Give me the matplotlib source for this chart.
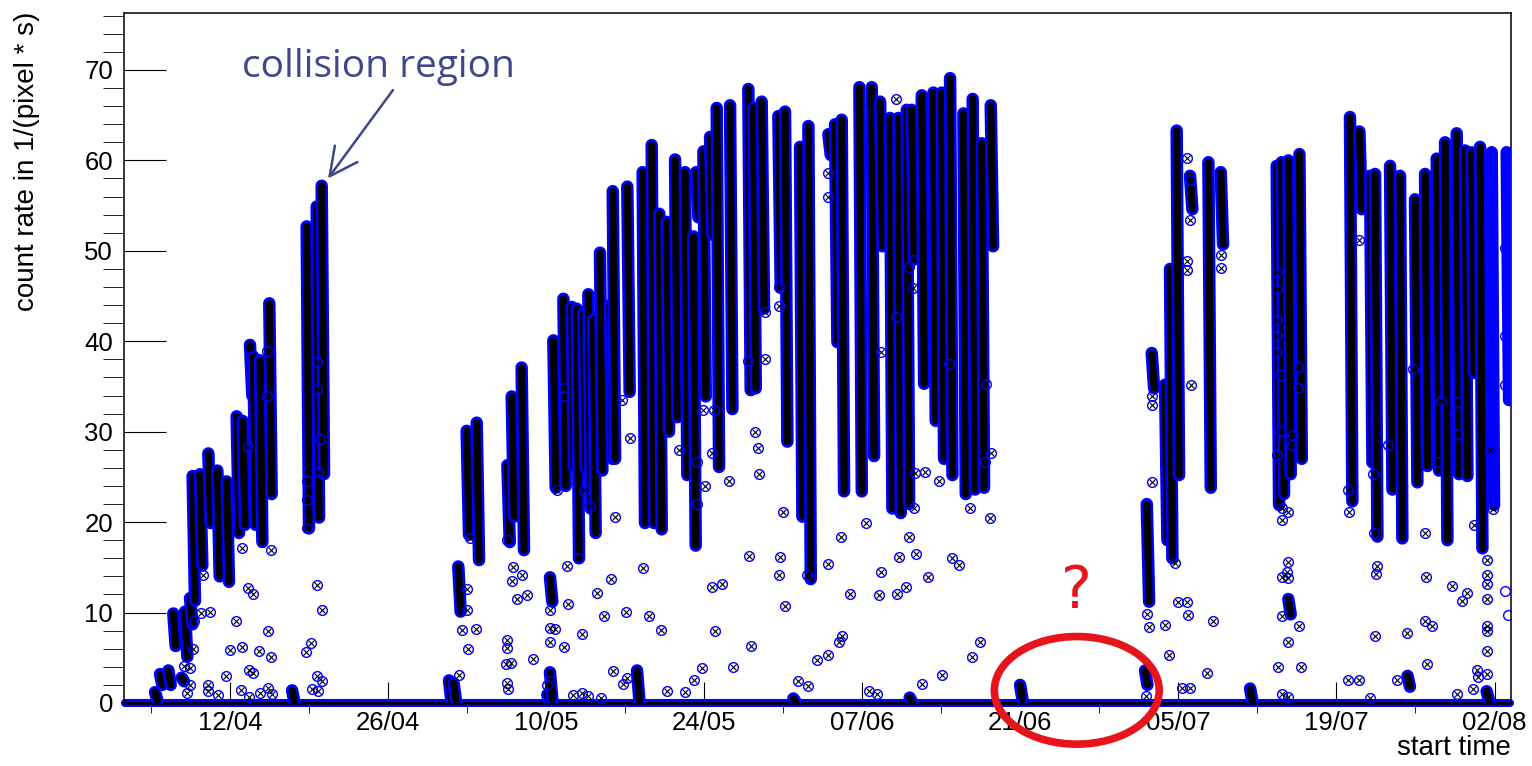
import numpy as np
import matplotlib.pyplot as plt
from matplotlib.patches import Ellipse

plt.rcParams['font.family'] = ['Liberation Sans', 'DejaVu Sans']

# time axis: days counted from 01/04 00:00
tick_days = [11, 25, 39, 53, 67, 81, 95, 109, 123]
tick_labels = ['12/04', '26/04', '10/05', '24/05', '07/06', '21/06', '05/07', '19/07', '02/08']

# fills: (start day, rate at start, rate at end)
fills_april = [(4.80, 3.2, 2.0), (5.54, 3.6, 2.0), (5.98, 9.9, 6.3), (7.01, 10.1, 5.1),
               (7.46, 11.6, 8.7), (7.69, 25.1, 11.3), (8.34, 25.3, 15.2), (9.08, 27.6, 19.9),
               (9.88, 25.7, 14.0), (10.70, 24.5, 13.4), (11.59, 31.7, 18.8), (12.12, 31.2, 19.7),
               (12.77, 39.6, 34.0), (13.07, 38.3, 19.7), (13.66, 37.9, 17.8), (14.48, 44.2, 23.1),
               (17.79, 52.7, 19.3), (18.68, 54.9, 20.5), (19.12, 57.2, 25.3), (31.22, 15.1, 10.1),
               (31.96, 30.1, 18.6), (32.85, 31.0, 15.8)]
fills_may = [(35.57, 26.3, 17.8), (35.95, 33.9, 20.6), (36.83, 37.1, 16.9), (39.34, 13.9, 11.2),
             (39.64, 40.1, 23.8), (40.53, 44.7, 24.0), (41.26, 43.8, 26.1), (41.71, 43.6, 16.0),
             (42.30, 43.1, 25.9), (42.74, 45.2, 21.5), (43.18, 42.4, 18.8), (43.77, 49.8, 25.7),
             (44.66, 44.0, 27.0), (44.90, 56.6, 27.0), (46.19, 57.1, 34.4), (47.55, 58.7, 19.9),
             (48.35, 61.7, 19.9), (49.03, 54.1, 19.2), (49.68, 53.2, 30.0), (50.42, 60.1, 31.6),
             (51.30, 58.7, 25.2), (52.04, 51.6, 17.4), (52.28, 58.7, 53.7), (52.93, 61.0, 33.9),
             (53.52, 62.6, 51.8), (54.11, 65.8, 26.1), (55.29, 66.1, 32.5), (56.91, 67.9, 34.6),
             (57.36, 65.8, 34.8), (58.09, 66.5, 43.6), (59.57, 64.9, 45.9), (60.16, 65.4, 28.9)]
fills_june = [(61.49, 61.5, 20.6), (62.23, 63.8, 13.7), (64.00, 62.9, 60.6), (64.59, 64.0, 39.9),
              (65.18, 64.5, 23.4), (66.75, 68.1, 23.4), (67.84, 68.1, 27.3), (68.58, 66.5, 50.5),
              (69.46, 64.7, 21.5), (70.20, 64.7, 21.0), (70.94, 65.6, 22.0), (71.38, 65.6, 49.1),
              (72.27, 67.2, 35.3), (73.30, 67.5, 31.2), (74.04, 67.5, 27.0), (74.78, 69.1, 25.2),
              (75.96, 65.2, 23.1), (76.78, 66.8, 23.6), (77.58, 61.9, 23.8), (78.38, 66.1, 50.5)]
fills_july = [(92.20, 22.0, 11.2), (92.64, 38.7, 34.8), (93.82, 35.2, 18.0), (94.26, 48.0, 16.0),
              (94.85, 63.3, 25.2), (96.03, 58.3, 54.6), (97.66, 59.8, 23.8), (98.75, 58.7, 50.7),
              (103.71, 59.4, 21.9), (104.15, 59.8, 23.1), (104.74, 60.0, 25.3), (104.74, 11.5, 9.8),
              (105.72, 60.7, 27.0), (110.20, 64.8, 22.3), (111.03, 63.2, 54.6), (111.98, 58.3, 26.6),
              (112.42, 58.5, 18.4), (113.75, 59.4, 23.6), (114.63, 58.3, 18.2), (115.96, 55.7, 24.4),
              (116.85, 58.5, 26.2), (117.88, 60.2, 25.7), (118.62, 62.0, 18.0), (119.65, 63.0, 25.3),
              (120.39, 61.1, 25.1), (120.98, 60.9, 36.5), (121.72, 61.5, 17.1)]
fills_latest = [(122.75, 60.9, 21.9), (124.08, 60.9, 33.5)]
FILL_HOURS = 5.

# short low-rate runs near zero
low_runs = [(4.36, 1.2, 0.3), (6.72, 2.8, 2.4), (16.5, 1.4, 0.1), (30.4, 2.5, 0.2), (30.8, 2.2, 0.3),
            (39.1, 0.9, 0.2), (39.34, 3.4, 0.4), (47.05, 3.6, 0.3), (60.9, 0.5, 0.1), (71.2, 0.6, 0.1),
            (80.98, 2.0, 0.4), (92.05, 3.6, 2.0), (101.35, 1.6, 0.2), (115.3, 3.0, 1.8), (122.3, 1.3, 0.3)]

# run period (rate 0 between fills)
run_start, run_end = 1.7, 124.4

# isolated measurements (day, rate)
pts_april = [(8.64, 14.2), (8.43, 10.0), (9.23, 10.1), (12.03, 17.1), (12.62, 12.7), (13.07, 12.1),
             (14.63, 16.9), (11.53, 9.1), (11.0, 5.9), (12.03, 6.2), (13.6, 5.7), (14.63, 5.1),
             (14.39, 8.0), (10.65, 3.0), (12.71, 3.6), (13.07, 3.3), (9.08, 2.0), (9.08, 1.3),
             (11.94, 1.4), (12.71, 0.7), (13.66, 1.1), (14.39, 1.7), (14.69, 1.0), (9.97, 0.9),
             (6.92, 4.1), (7.46, 3.9), (7.69, 6.0), (7.81, 9.1), (7.46, 2.0), (7.16, 1.1),
             (14.25, 38.9), (14.25, 33.9), (12.62, 28.3), (18.68, 37.7), (18.68, 34.7), (18.97, 29.2),
             (18.82, 25.5), (17.79, 24.5), (17.79, 22.4), (17.79, 19.4), (18.68, 13.0), (19.12, 10.3),
             (17.73, 5.6), (18.17, 6.6), (18.68, 3.0), (19.12, 2.4), (18.23, 1.5), (18.82, 1.3),
             (31.96, 12.6), (31.96, 10.3), (31.52, 8.1), (32.79, 8.2), (32.11, 6.0), (31.31, 3.1),
             (32.26, 18.3)]
pts_may = [(35.5, 18.0), (36.1, 15.0), (35.95, 13.5), (36.39, 11.5), (35.5, 7.0), (35.56, 6.1),
           (35.42, 4.3), (35.86, 4.4), (35.56, 2.2), (36.83, 14.2), (37.28, 11.9), (37.87, 4.9),
           (35.65, 1.6), (39.94, 23.6), (39.34, 10.3), (39.34, 8.3), (39.79, 8.2), (39.34, 6.8),
           (40.58, 6.2), (39.34, 3.4), (39.05, 2.0), (40.58, 34.8), (40.58, 33.9), (40.88, 15.1),
           (40.91, 11.0), (41.85, 16.0), (42.39, 23.5), (42.89, 21.8), (42.15, 7.6), (43.48, 12.2),
           (44.75, 13.7), (44.16, 9.6), (46.08, 10.1), (45.10, 20.6), (45.75, 33.5), (46.43, 29.3),
           (47.55, 14.9), (48.14, 9.6), (49.15, 8.1), (44.9, 3.5), (45.78, 2.1), (46.19, 2.8),
           (41.35, 0.9), (42.15, 1.1), (42.74, 0.8), (43.83, 0.6), (50.8, 28.0), (52.34, 26.7),
           (53.07, 24.0), (52.93, 32.4), (53.87, 32.4), (53.66, 27.6), (55.23, 24.5), (52.39, 22.0),
           (53.66, 12.8), (54.55, 13.2), (53.96, 8.0), (52.78, 3.9), (52.1, 2.5), (49.68, 1.3),
           (51.3, 1.2), (55.52, 4.0), (57.0, 16.3), (57.5, 30.0), (57.8, 28.2), (57.89, 25.3),
           (56.91, 37.8), (58.39, 38.0), (58.39, 43.2), (59.72, 16.1), (59.63, 14.2), (60.16, 10.7),
           (59.95, 21.1), (57.15, 6.3), (59.66, 46.0), (59.66, 43.9)]
pts_june = [(62.08, 14.2), (61.34, 2.4), (62.23, 1.9), (63.02, 4.8), (64.0, 58.6), (64.0, 55.9),
            (64.0, 15.4), (65.92, 12.1), (65.09, 18.4), (67.31, 19.9), (65.18, 7.4), (64.94, 6.7),
            (64.0, 5.3), (68.66, 14.5), (68.52, 11.9), (70.11, 12.1), (70.88, 12.8), (70.26, 16.1),
            (71.76, 16.5), (71.14, 18.4), (72.8, 13.9), (71.59, 21.6), (71.68, 25.4), (72.56, 25.5),
            (73.83, 24.6), (74.92, 16.0), (75.57, 15.3), (76.55, 21.6), (78.32, 20.5), (77.88, 26.7),
            (78.41, 27.7), (77.93, 35.3), (74.72, 37.5), (70.0, 42.7), (71.53, 45.9), (71.14, 48.2),
            (71.53, 49.0), (68.66, 38.8), (70.0, 66.8), (77.43, 6.8), (76.75, 5.1), (74.04, 3.1),
            (72.27, 2.1), (67.6, 1.3), (68.34, 1.0)]
pts_july = [(92.64, 34.0), (92.64, 32.9), (92.64, 24.4), (92.2, 9.8), (92.43, 8.4), (93.82, 8.6),
            (94.2, 5.3), (94.71, 15.5), (94.94, 11.2), (95.74, 11.2), (95.89, 9.7), (95.74, 60.3),
            (96.03, 57.8), (96.03, 53.4), (95.74, 48.9), (95.74, 47.9), (96.09, 35.2), (92.14, 0.8),
            (95.3, 1.7), (96.03, 1.7), (98.75, 49.5), (98.75, 48.1), (98.1, 9.1), (97.57, 3.3),
            (111.03, 51.2), (103.71, 47.7), (103.71, 45.8), (103.71, 42.3), (103.71, 40.6),
            (103.71, 38.8), (104.0, 36.3), (105.63, 37.2), (105.63, 34.8), (104.0, 30.1),
            (105.18, 29.6), (105.04, 28.5), (103.77, 27.4), (104.15, 21.6), (104.74, 21.1),
            (104.15, 20.2), (104.74, 15.6), (104.59, 14.5), (104.15, 13.9), (104.74, 13.8),
            (104.15, 9.6), (105.69, 8.5), (104.74, 6.7), (103.86, 4.0), (105.86, 4.0), (104.15, 1.0),
            (104.74, 0.7), (110.06, 23.6), (110.14, 21.1), (112.27, 25.3), (112.33, 18.8),
            (112.57, 15.2), (112.51, 14.3), (112.42, 7.4), (115.22, 7.7), (116.85, 18.8),
            (116.94, 13.9), (116.85, 9.1), (117.44, 8.5), (117.05, 4.3), (114.34, 2.5), (110.06, 2.5),
            (111.03, 2.5), (111.97, 0.5), (119.21, 12.9), (120.09, 11.3), (120.54, 12.2),
            (121.19, 19.7), (122.31, 15.8), (122.31, 14.1), (122.31, 13.2), (122.31, 11.5),
            (122.31, 8.5), (122.31, 8.0), (122.31, 5.7), (122.31, 3.2), (121.42, 3.7), (121.57, 2.9),
            (121.13, 1.6), (119.65, 1.0), (122.9, 21.4), (119.8, 33.3), (119.8, 29.8), (118.26, 33.4),
            (117.94, 26.6), (113.6, 28.5), (122.6, 28.0), (115.8, 36.9)]
pts_latest = [(123.93, 12.4), (124.23, 9.7), (123.93, 50.3), (123.93, 40.6), (123.93, 35.2)]

BLUE = '#0000ff'
NOTE = '#3e4789'

fig = plt.figure(figsize=(15.32, 7.66), dpi=100)
ax = fig.add_axes([124/1532, 63/766, 1387/1532, 690/766])

# rate 0 during the whole period
ax.plot([run_start, run_end], [0, 0], color=BLUE, lw=5.8, solid_capstyle='round', clip_on=False, zorder=2)
ax.plot([run_start, run_end], [0, 0], color='k', lw=2.0, solid_capstyle='round', clip_on=False, zorder=2)

dt = FILL_HOURS / 24.
for d, top, bot in fills_april + fills_may + fills_june + fills_july + low_runs:
    ax.plot([d, d + dt], [top, bot], color=BLUE, lw=9, solid_capstyle='round', zorder=3)
    ax.plot([d, d + dt], [top, bot], color='k', lw=5.2, solid_capstyle='round', zorder=3)
for d, top, bot in fills_latest:
    ax.plot([d, d + dt], [top, bot], color=BLUE, lw=9, solid_capstyle='round', zorder=3)

pts = np.array(pts_april + pts_may + pts_june + pts_july)
ax.plot(pts[:, 0], pts[:, 1], 'o', mfc='none', mec=BLUE, ms=7, mew=1.0, zorder=4)
ax.plot(pts[:, 0], pts[:, 1], 'x', color='k', ms=3.8, mew=0.8, zorder=4)
late = np.array(pts_latest)
ax.plot(late[:, 0], late[:, 1], 'o', mfc='none', mec=BLUE, ms=7, mew=1.0, zorder=4)

ax.set_xlim(1.61, 124.46)
ax.set_ylim(0, 76.3)
ax.set_xticks(tick_days)
ax.set_xticklabels(tick_labels)
ax.set_xticks(np.arange(4, 125, 7), minor=True)
ax.set_yticks(np.arange(0, 71, 10))
ax.set_yticks(np.arange(0, 77, 2), minor=True)
ax.tick_params(labelsize=18.5, width=0.8, direction='in')
ax.tick_params(axis='y', which='major', length=29.9, pad=8)
ax.tick_params(axis='y', which='minor', length=15)
ax.tick_params(axis='x', which='major', length=14.9, pad=6)
ax.tick_params(axis='x', which='minor', length=7.5)
for s in ax.spines.values():
    s.set_linewidth(1.1)

fig.text(27/1532, 1 - 12/766, 'count rate in 1/(pixel * s)', rotation=90,
         ha='center', va='top', fontsize=20)
fig.text(1511/1532, 1 - 748/766, 'start time', ha='right', va='center', fontsize=20)

# annotations
fig.text(242/1532, 689/766, 'collision region', color=NOTE, fontsize=28,
         family=['Open Sans', 'DejaVu Sans'], ha='left', va='baseline')
ax.annotate('', xy=(19.68, 58.0), xytext=(393, 676), textcoords='figure pixels',
            arrowprops=dict(arrowstyle='->,head_length=1.0,head_width=0.5', color=NOTE,
                            lw=1.8, mutation_scale=20, shrinkA=0, shrinkB=0))
ax.add_patch(Ellipse((86.0, 1.4), 14.6, 11.9, fill=False, ec='#e8141b', lw=5.5,
                     clip_on=False, zorder=6))
ax.text(86.0, 12.3, '?', color='#e8141b', fontsize=42, family='DejaVu Sans',
        ha='center', va='center', zorder=6)

fig.savefig('out.png', dpi=100)
